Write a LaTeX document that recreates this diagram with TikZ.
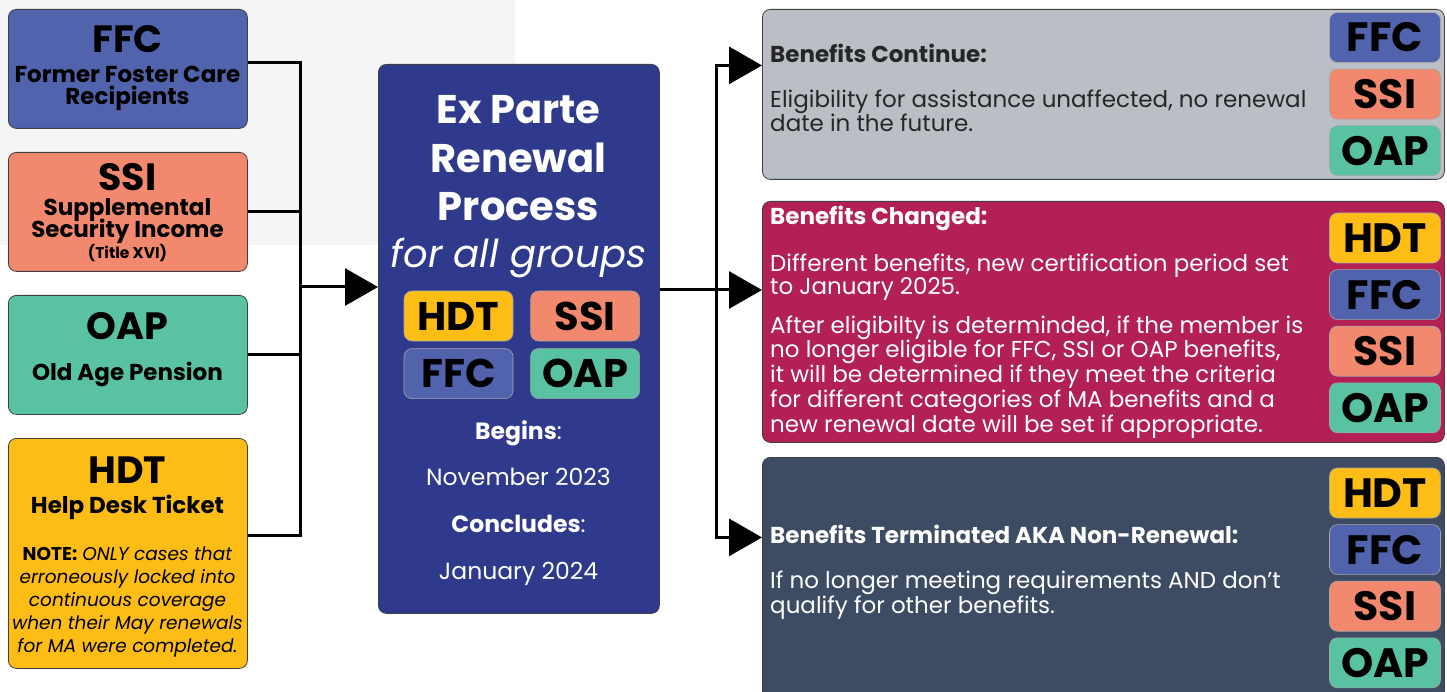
\documentclass[tikz,border=0pt]{standalone}
\usepackage{fontspec}
\setmainfont{Poppins}
\usetikzlibrary{arrows.meta,positioning}
\definecolor{ffcblue}{HTML}{5163AD}
\definecolor{ssisalmon}{HTML}{F2896F}
\definecolor{oapgreen}{HTML}{58C2A2}
\definecolor{hdtyellow}{HTML}{FDBD15}
\definecolor{procblue}{HTML}{303A8C}
\definecolor{contgray}{HTML}{BABFC6}
\definecolor{chgred}{HTML}{B22056}
\definecolor{termslate}{HTML}{3D4C63}
\definecolor{pagegray}{HTML}{F4F5F7}
\tikzset{
  grp box/.style={draw=black!75, line width=0.8pt, rounded corners=8pt, anchor=north west, inner sep=0pt},
  tag/.style={draw=black!35, line width=0.6pt, rounded corners=8pt, inner sep=0pt,
    minimum width=109pt, minimum height=50pt, text=black, font=\bfseries\fontsize{40}{40}\selectfont},
  side tag/.style={tag, minimum width=111pt, font=\bfseries\fontsize{41}{41}\selectfont},
  grp title/.style={anchor=base, font=\bfseries\fontsize{38}{38}\selectfont},
  grp sub/.style={anchor=base, font=\bfseries\fontsize{23}{23}\selectfont},
  note/.style={anchor=base, font=\fontsize{18.5}{18.5}\selectfont},
  proc text/.style={anchor=base, text=white, font=\fontsize{23.5}{23.5}\selectfont},
  out head/.style={anchor=base west, inner sep=0pt, font=\bfseries\fontsize{23}{23}\selectfont},
  out body/.style={anchor=base west, inner sep=0pt, align=left, font=\fontsize{23}{22.7}\selectfont},
  conn/.style={line width=3pt}
}
\begin{document}
\begin{tikzpicture}[x=1pt, y=-1pt, >={Triangle[length=33pt,width=37pt]}]
	\useasboundingbox (0,0) rectangle (1447,692);
	\fill[pagegray] (0,0) rectangle (515,245);

	% the four groups
	\node[grp box, fill=ffcblue, minimum width=239pt, minimum height=119pt] (ffc) at (8,9) {};
	\node[grp box, fill=ssisalmon, minimum width=239pt, minimum height=119pt] (ssi) at (8,152) {};
	\node[grp box, fill=oapgreen, minimum width=239pt, minimum height=119pt] (oap) at (8,295) {};
	\node[grp box, fill=hdtyellow, minimum width=239pt, minimum height=230pt] (hdt) at (8,438) {};

	\node[grp title] (ffcT) at (127.5,53) {FFC};
	\node[grp sub] (ffcS1) at (127.5,83) {Former Foster Care};
	\node[grp sub] (ffcS2) at (127.5,105) {Recipients};
	\node[grp title] (ssiT) at (127.5,191) {SSI};
	\node[grp sub, inner ysep=0pt] (ssiS1) at (127.5,216) {Supplemental};
	\node[grp sub] (ssiS2) at (127.5,238) {Security Income};
	\node[grp sub, font=\bfseries\fontsize{15.5}{15.5}\selectfont] (ssiS3) at (127.5,259) {(Title XVI)};
	\node[grp title] (oapT) at (127.5,339) {OAP};
	\node[grp sub] (oapS1) at (127.5,380) {Old Age Pension};
	\node[grp title] (hdtT) at (127.5,483) {HDT};
	\node[grp sub] (hdtS1) at (127.5,513) {Help Desk Ticket};
	\node[note] (hdtN1) at (127.5,560) {\textbf{NOTE:} \textit{ONLY cases that}};
	\node[note] (hdtN2) at (127.5,583) {\textit{erroneously locked into}};
	\node[note] (hdtN3) at (127.5,606) {\textit{continuous coverage}};
	\node[note] (hdtN4) at (127.5,629) {\textit{when their May renewals}};
	\node[note] (hdtN5) at (127.5,652) {\textit{for MA were completed.}};

	% ex parte process
	\node[grp box, fill=procblue, minimum width=281pt, minimum height=549pt] (proc) at (378,64) {};
	\node[grp title, text=white, font=\bfseries\fontsize{40}{40}\selectfont] (procT1) at (518.5,124) {Ex Parte};
	\node[grp title, text=white, font=\bfseries\fontsize{40}{40}\selectfont] (procT2) at (518.5,173) {Renewal};
	\node[grp title, text=white, font=\bfseries\fontsize{40}{40}\selectfont] (procT3) at (518.5,221) {Process};
	\node[grp title, text=white, font=\itshape\fontsize{38.5}{38.5}\selectfont] (procT4) at (518.5,268) {for all groups};
	\node[tag, fill=hdtyellow] (pHDT) at (458.5,316) {HDT};
	\node[tag, fill=ssisalmon, right=17pt of pHDT] (pSSI) {SSI};
	\node[tag, fill=ffcblue, below=7pt of pHDT] (pFFC) {FFC};
	\node[tag, fill=oapgreen, below=7pt of pSSI] (pOAP) {OAP};
	\node[proc text] (beg) at (518.5,439) {\textbf{Begins}:};
	\node[proc text] (begD) at (518.5,485) {November 2023};
	\node[proc text] (con) at (518.5,532) {\textbf{Concludes}:};
	\node[proc text] (conD) at (518.5,579) {January 2024};

	% outcomes
	\node[grp box, fill=contgray, minimum width=682pt, minimum height=170pt] (cont) at (762,9) {};
	\node[grp box, fill=chgred, minimum width=682pt, minimum height=241pt] (chg) at (762,201) {};
	\node[grp box, fill=termslate, minimum width=682pt, minimum height=250pt] (term) at (762,457) {};

	% multi-line text sits on its last baseline
	\node[out head, text=black!85] (contH) at (770,63) {Benefits Continue:};
	\node[out body, text=black!85] (contB) at (770,132) {Eligibility for assistance unaffected, no renewal\\date in the future.};
	\node[out head, text=white] (chgH) at (770,225) {Benefits Changed:};
	\node[out body, text=white] (chgB1) at (770,295) {Different benefits, new certification period set\\to January 2025.};
	\node[out body, text=white] (chgB2) at (770,432) {After eligibilty is determinded, if the member is\\no longer eligible for FFC, SSI or OAP benefits,\\it will be determined if they meet the criteria\\for different categories of MA benefits and a\\new renewal date will be set if appropriate.};
	\node[out head, text=white] (termH) at (770,543) {Benefits Terminated AKA Non-Renewal:};
	\node[out body, text=white] (termB) at (770,613) {If no longer meeting requirements AND don't\\qualify for other benefits.};

	\node[side tag, fill=ffcblue] (cFFC) at (1385,37.5) {FFC};
	\node[side tag, fill=ssisalmon, below=6pt of cFFC] (cSSI) {SSI};
	\node[side tag, fill=oapgreen, below=6pt of cSSI] (cOAP) {OAP};
	\node[side tag, fill=hdtyellow] (gHDT) at (1385,238) {HDT};
	\node[side tag, fill=ffcblue, below=6pt of gHDT] (gFFC) {FFC};
	\node[side tag, fill=ssisalmon, below=6pt of gFFC] (gSSI) {SSI};
	\node[side tag, fill=oapgreen, below=6pt of gSSI] (gOAP) {OAP};
	\node[side tag, fill=hdtyellow] (tHDT) at (1385,493) {HDT};
	\node[side tag, fill=ffcblue, below=6pt of tHDT] (tFFC) {FFC};
	\node[side tag, fill=ssisalmon, below=6pt of tFFC] (tSSI) {SSI};
	\node[side tag, fill=oapgreen, below=6pt of tSSI] (tOAP) {OAP};

	% connectors
	\coordinate (join) at (300,287);
	\coordinate (split) at (716,290);
	\draw[conn] ([yshift=6.5pt]ffc.east) -| (join);
	\draw[conn] ([yshift=18pt]hdt.east) -| (join);
	\draw[conn] (ssi.east) -- (ssi.east -| join);
	\draw[conn] (oap.east) -- (oap.east -| join);
	\draw[conn, ->] (join) -- (proc.west |- join);
	\draw[conn] (proc.east |- split) -- (split);
	\draw[conn, ->] (split) |- ([yshift=29pt]cont.west);
	\draw[conn, ->] (split) -- (chg.west |- split);
	\draw[conn, ->] (split) |- ([yshift=45pt]term.west);
\end{tikzpicture}
\end{document}
